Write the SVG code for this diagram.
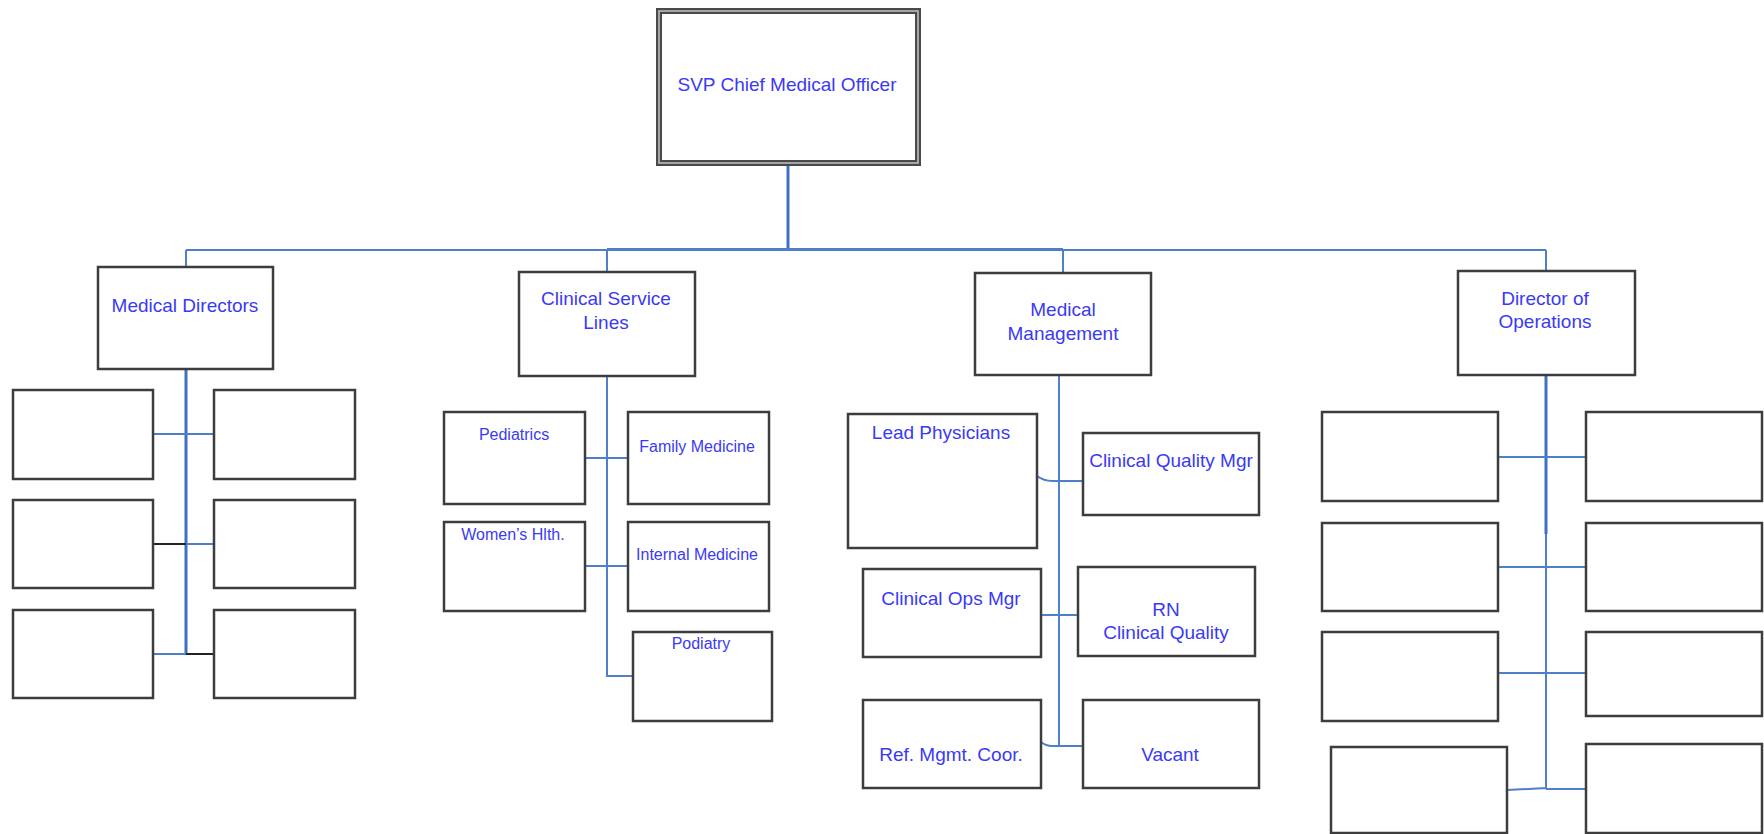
<svg xmlns="http://www.w3.org/2000/svg" width="1764" height="834" viewBox="0 0 1764 834">
<style>
.bx{fill:#fff;stroke:#3d3d3d;stroke-width:2.5}
.t{font-family:"Liberation Sans",Arial,sans-serif;font-size:19px;fill:#3a3af5;text-anchor:middle}
.s{font-size:16px}
.c{fill:none;stroke:#4f7fc8;stroke-width:2}
.ck{fill:none;stroke:#222;stroke-width:2}
.cb{fill:none;stroke:#3f70c4;stroke-width:3}
</style>
<rect width="1764" height="834" fill="#fff"/>
<g id="connectors">
<path class="cb" d="M788 164V250"/>
<path class="c" d="M186 250H1546"/>
<path class="c" d="M607 249H1063" stroke-width="3"/>
<path class="c" d="M186 250V267M607 250V272M1063 250V273M1546 250V271"/>
<!-- Medical Directors -->
<path class="cb" d="M186 369V655"/>
<path class="c" d="M153 434H214M186 544H214M153 654H186"/>
<path class="ck" d="M153 544H186M186 654H214"/>
<!-- Clinical Service Lines -->
<path class="c" d="M607 376V676H633M585 458H628M585 566H628"/>
<!-- Medical Management -->
<path class="c" d="M1059 375V747M1037 476Q1044 481 1052 481H1083M1041 615H1078M1041 742Q1046 746 1052 746H1083"/>
<!-- Director of Operations -->
<path class="cb" d="M1546 375V534"/>
<path class="c" d="M1546 534V788M1498 457H1586M1498 567H1586M1498 673H1586M1507 790L1546 788M1546 789H1586"/>
</g>
<g id="svp">
<rect x="659" y="11" width="259" height="152" fill="#fff" stroke="#4a4a4a" stroke-width="6"/>
<rect x="659" y="11" width="259" height="152" fill="none" stroke="#c4c4c4" stroke-width="1.5"/>
<text class="t" x="787" y="91">SVP Chief Medical Officer</text>
</g>
<g id="medical-directors">
<rect class="bx" x="98" y="267" width="175" height="102"/>
<text class="t" x="185" y="312">Medical Directors</text>
</g>
<g id="md-boxes">
<rect class="bx" x="13" y="390" width="140" height="89"/>
<rect class="bx" x="214" y="390" width="141" height="89"/>
<rect class="bx" x="13" y="500" width="140" height="88"/>
<rect class="bx" x="214" y="500" width="141" height="88"/>
<rect class="bx" x="13" y="610" width="140" height="88"/>
<rect class="bx" x="214" y="610" width="141" height="88"/>
</g>
<g id="clinical-service-lines">
<rect class="bx" x="519" y="272" width="176" height="104"/>
<text class="t" x="606" y="305">Clinical Service</text>
<text class="t" x="606" y="329">Lines</text>
</g>
<g id="pediatrics">
<rect class="bx" x="444" y="412" width="141" height="92"/>
<text class="t s" x="514" y="440">Pediatrics</text>
</g>
<g id="family-medicine">
<rect class="bx" x="628" y="412" width="141" height="92"/>
<text class="t s" x="697" y="452">Family Medicine</text>
</g>
<g id="womens-health">
<rect class="bx" x="444" y="522" width="141" height="89"/>
<text class="t s" x="513" y="540">Women’s Hlth.</text>
</g>
<g id="internal-medicine">
<rect class="bx" x="628" y="522" width="141" height="89"/>
<text class="t s" x="697" y="560">Internal Medicine</text>
</g>
<g id="podiatry">
<rect class="bx" x="633" y="632" width="139" height="89"/>
<text class="t s" x="701" y="649">Podiatry</text>
</g>
<g id="medical-management">
<rect class="bx" x="975" y="273" width="176" height="102"/>
<text class="t" x="1063" y="316">Medical</text>
<text class="t" x="1063" y="340">Management</text>
</g>
<g id="lead-physicians">
<rect class="bx" x="848" y="414" width="189" height="134"/>
<text class="t" x="941" y="439">Lead Physicians</text>
</g>
<g id="clinical-quality-mgr">
<rect class="bx" x="1083" y="433" width="176" height="82"/>
<text class="t" x="1171" y="467">Clinical Quality Mgr</text>
</g>
<g id="clinical-ops-mgr">
<rect class="bx" x="863" y="569" width="178" height="88"/>
<text class="t" x="951" y="605">Clinical Ops Mgr</text>
</g>
<g id="rn-clinical-quality">
<rect class="bx" x="1078" y="567" width="177" height="89"/>
<text class="t" x="1166" y="616">RN</text>
<text class="t" x="1166" y="639">Clinical Quality</text>
</g>
<g id="ref-mgmt-coor">
<rect class="bx" x="863" y="700" width="178" height="88"/>
<text class="t" x="951" y="761">Ref. Mgmt. Coor.</text>
</g>
<g id="vacant">
<rect class="bx" x="1083" y="700" width="176" height="88"/>
<text class="t" x="1170" y="761">Vacant</text>
</g>
<g id="director-of-operations">
<rect class="bx" x="1458" y="271" width="177" height="104"/>
<text class="t" x="1545" y="305">Director of</text>
<text class="t" x="1545" y="328">Operations</text>
</g>
<g id="do-boxes">
<rect class="bx" x="1322" y="412" width="176" height="89"/>
<rect class="bx" x="1586" y="412" width="176" height="89"/>
<rect class="bx" x="1322" y="523" width="176" height="88"/>
<rect class="bx" x="1586" y="523" width="176" height="88"/>
<rect class="bx" x="1322" y="632" width="176" height="89"/>
<rect class="bx" x="1586" y="632" width="176" height="84"/>
<rect class="bx" x="1331" y="747" width="176" height="86"/>
<rect class="bx" x="1586" y="744" width="176" height="89"/>
</g>
</svg>
